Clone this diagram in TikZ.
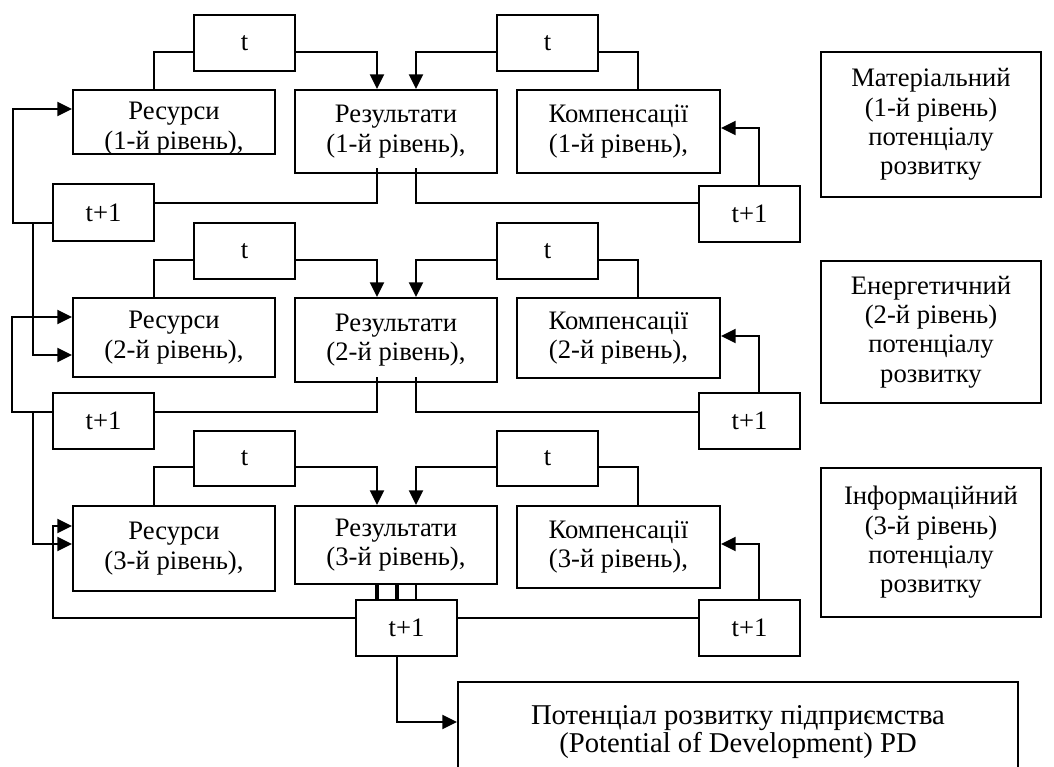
\documentclass[tikz,border=0pt]{standalone}
\usepackage{fontspec}
\setmainfont{Liberation Serif}
\usetikzlibrary{arrows.meta}
\begin{document}
\begin{tikzpicture}[x=0.75pt,y=-0.75pt,
  bx/.style={draw, line width=1.5pt, inner sep=0pt, align=center,
    font=\fontsize{20}{22}\selectfont},
  tx/.style={inner sep=0pt, align=center, font=\fontsize{20}{22}\selectfont},
  ln/.style={line width=1.6pt},
  thk/.style={line width=2.3pt},
  arr/.style={line width=1.6pt, -{Triangle[length=11pt,width=10.5pt]}}]
\useasboundingbox (0,0) rectangle (1054,767);
% ---------- level 1 ----------
\node[bx, minimum width=75.75pt, minimum height=42pt] (tL1) at (244.5,43) {t};
\node[bx, minimum width=75.75pt, minimum height=42pt] (tR1) at (547.5,43) {t};
\node[bx, minimum width=151.5pt, minimum height=48pt] (res1) at (174,122) {};
\node[tx] (res1t) at (174,128.5) {Ресурси\\(1-й рівень),};
\node[bx, minimum width=151.5pt, minimum height=62.25pt] (rez1) at (396,131.5) {Результати\\(1-й рівень),};
\node[bx, minimum width=152.25pt, minimum height=62.25pt] (kom1) at (618.5,131.5) {Компенсації\\(1-й рівень),};
\node[bx, minimum width=75.75pt, minimum height=42.75pt] (tpL1) at (103.5,212.5) {t+1};
\node[bx, minimum width=75.75pt, minimum height=42pt] (tpR1) at (749.5,213.5) {t+1};
% ---------- level 2 ----------
\node[bx, minimum width=75.75pt, minimum height=42pt] (tL2) at (244.5,251) {t};
\node[bx, minimum width=75.75pt, minimum height=42pt] (tR2) at (547.5,251) {t};
\node[bx, minimum width=151.5pt, minimum height=59.25pt] (res2) at (174,337.5) {Ресурси\\(2-й рівень),};
\node[bx, minimum width=151.5pt, minimum height=63pt] (rez2) at (396,340) {Результати\\(2-й рівень),};
\node[bx, minimum width=152.25pt, minimum height=60pt] (kom2) at (618.5,338) {Компенсації\\(2-й рівень),};
\node[bx, minimum width=75.75pt, minimum height=42pt] (tpL2) at (103.5,421) {t+1};
\node[bx, minimum width=75.75pt, minimum height=42pt] (tpR2) at (749.5,421) {t+1};
% ---------- level 3 ----------
\node[bx, minimum width=75.75pt, minimum height=41.25pt] (tL3) at (244.5,458.5) {t};
\node[bx, minimum width=75.75pt, minimum height=41.25pt] (tR3) at (547.5,458.5) {t};
\node[bx, minimum width=151.5pt, minimum height=63.75pt] (res3) at (174,548.5) {Ресурси\\(3-й рівень),};
\node[bx, minimum width=151.5pt, minimum height=58.5pt] (rez3) at (396,545) {Результати\\(3-й рівень),};
\node[bx, minimum width=152.25pt, minimum height=61.5pt] (kom3) at (618.5,547) {Компенсації\\(3-й рівень),};
\node[bx, minimum width=75.75pt, minimum height=42pt] (tpC3) at (406.5,628) {t+1};
\node[bx, minimum width=75.75pt, minimum height=42pt] (tpR3) at (749.5,628) {t+1};
% ---------- right legend ----------
\node[bx, minimum width=165pt, minimum height=108.75pt] (mat) at (931,124.5) {Матеріальний\\(1-й рівень)\\потенціалу\\розвитку};
\node[bx, minimum width=165pt, minimum height=106.5pt] (ene) at (931,332) {Енергетичний\\(2-й рівень)\\потенціалу\\розвитку};
\node[bx, minimum width=165pt, minimum height=111.75pt] (inf) at (931,542.5) {Інформаційний\\(3-й рівень)\\потенціалу\\розвитку};
% ---------- result ----------
\node[bx, minimum width=420pt, minimum height=75pt, font=\fontsize{21.5}{21.5}\selectfont] (PD) at (738,732) {Потенціал розвитку підприємства\\(Potential of Development) PD};
% ---------- junctions ----------
\coordinate (j1) at (33,223);
\coordinate (j2) at (33,412);
% ---------- connectors level 1 ----------
\draw[ln] (tL1.west |- 0,52) -| (res1.north -| 154,0);
\draw[arr] (tL1.east |- 0,52) -| (rez1.north -| 377,0);
\draw[arr] (tR1.west |- 0,52) -| (rez1.north -| 416,0);
\draw[ln] (tR1.east |- 0,52) -| (kom1.north -| 638,0);
\draw[ln] ([yshift=4.5pt]rez1.south -| 377,0) |- (tpL1.east |- 0,203);
\draw[ln] ([yshift=4.5pt]rez1.south -| 416,0) |- (tpR1.west |- 0,203);
\draw[arr] (tpR1.north -| 759,0) |- (kom1.east |- 0,128);
\draw[arr] (tpL1.west |- 0,223) -| (13,109) -- (res1.west |- 0,109);
\draw[arr] (j1) |- (res2.west |- 0,355);
% ---------- connectors level 2 ----------
\draw[ln] (tL2.west |- 0,260) -| (res2.north -| 154,0);
\draw[arr] (tL2.east |- 0,260) -| (rez2.north -| 377,0);
\draw[arr] (tR2.west |- 0,260) -| (rez2.north -| 416,0);
\draw[ln] (tR2.east |- 0,260) -| (kom2.north -| 638,0);
\draw[ln] ([yshift=4.5pt]rez2.south -| 377,0) |- (tpL2.east |- 0,412);
\draw[ln] ([yshift=4.5pt]rez2.south -| 416,0) |- (tpR2.west |- 0,412);
\draw[arr] (tpR2.north -| 759,0) |- (kom2.east |- 0,336);
\draw[arr] (tpL2.west |- 0,412) -| (12,317) -- (res2.west |- 0,317);
\draw[arr] (j2) |- (res3.west |- 0,544);
% ---------- connectors level 3 ----------
\draw[ln] (tL3.west |- 0,467) -| (res3.north -| 154,0);
\draw[arr] (tL3.east |- 0,467) -| (rez3.north -| 377,0);
\draw[arr] (tR3.west |- 0,467) -| (rez3.north -| 416,0);
\draw[ln] (tR3.east |- 0,467) -| (kom3.north -| 638,0);
\draw[thk] (rez3.south -| 377,0) -- (tpC3.north -| 377,0);
\draw[thk] (rez3.south -| 397,0) -- (tpC3.north -| 397,0);
\draw[ln] (rez3.south -| 416,0) -- (tpC3.north -| 416,0);
\draw[arr] (tpC3.west |- 0,618) -| (53,526) -- (res3.west |- 0,526);
\draw[ln] (tpC3.east |- 0,618) -- (tpR3.west |- 0,618);
\draw[arr] (tpR3.north -| 759,0) |- (kom3.east |- 0,544);
\draw[arr] (tpC3.south -| 397,0) |- (PD.west |- 0,722);
\end{tikzpicture}
\end{document}
